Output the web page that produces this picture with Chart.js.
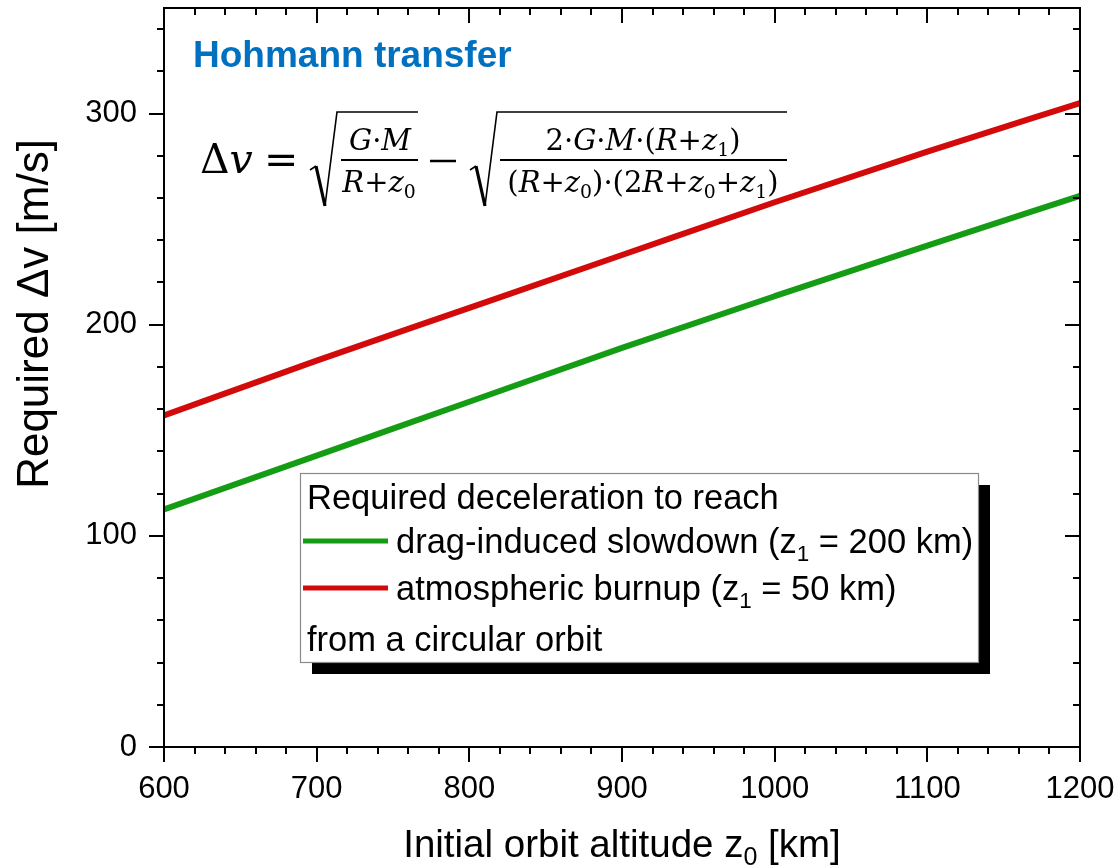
<!DOCTYPE html>
<html><head><meta charset="utf-8">
<script src="https://cdn.jsdelivr.net/npm/chart.js@4.4.0/dist/chart.umd.min.js"></script>
<style>html,body{margin:0;padding:0;background:#fff}canvas{display:block}</style>
</head><body>
<canvas id="c" width="1120" height="866"></canvas>
<script>
// ---- data ----
const altitudes = [600, 700, 800, 900, 1000, 1100, 1200];          // z0 [km]
const dragSlowdown = [112.5, 138, 163.5, 189, 213.5, 237.5, 261];   // z1 = 200 km
const burnup = [157, 183, 208, 233, 258, 282, 305];                 // z1 = 50 km
const seriesLabels = ['drag-induced slowdown', 'atmospheric burnup'];
const targetAltitudes = [200, 50];
const seriesColors = ['#159C15', '#D20A0A'];
const xTickValues = [600, 700, 800, 900, 1000, 1100, 1200];
const yTickValues = [0, 100, 200, 300];

const SANS = '"Liberation Sans", Arial, sans-serif';
const SERIF = '"DejaVu Serif", "Liberation Serif", serif';

function fontFor(kind, size, fam, bold) {
  const s = kind === 's' ? size * 0.65 : size;
  return (kind === 'i' ? 'italic ' : '') + (bold ? 'bold ' : '') + s + 'px ' + fam;
}
function drawRich(ctx, parts, x, y, size, fam, align, bold) {
  let w = 0;
  parts.forEach(p => { ctx.font = fontFor(p[1], size, fam, bold); w += ctx.measureText(p[0]).width; });
  let cx = align === 'center' ? x - w / 2 : x;
  ctx.textAlign = 'left';
  ctx.textBaseline = 'alphabetic';
  parts.forEach(p => {
    ctx.font = fontFor(p[1], size, fam, bold);
    ctx.fillText(p[0], cx, y + (p[1] === 's' ? size * 0.22 : 0));
    cx += ctx.measureText(p[0]).width;
  });
  return w;
}
function drawSqrt(ctx, x0, xEnd, yTop, yBot) {
  ctx.save();
  ctx.strokeStyle = '#000';
  ctx.lineJoin = 'miter';
  ctx.beginPath();
  ctx.lineWidth = 1.6;
  ctx.moveTo(x0, yBot - 36);
  ctx.lineTo(x0 + 6, yBot - 40);
  ctx.stroke();
  ctx.beginPath();
  ctx.lineWidth = 3.2;
  ctx.moveTo(x0 + 6, yBot - 40);
  ctx.lineTo(x0 + 15, yBot);
  ctx.stroke();
  ctx.beginPath();
  ctx.lineWidth = 1.6;
  ctx.moveTo(x0 + 15, yBot);
  ctx.lineTo(x0 + 27, yTop);
  ctx.lineTo(xEnd, yTop);
  ctx.stroke();
  ctx.restore();
}

const decor = {
  id: 'decor',
  afterDraw(chart) {
    const ctx = chart.ctx;
    const a = chart.chartArea;
    const xs = chart.scales.x, ys = chart.scales.y;
    ctx.save();
    ctx.fillStyle = '#000';
    ctx.strokeStyle = '#000';

    // frame
    ctx.lineWidth = 2;
    ctx.strokeRect(a.left, a.top, a.right - a.left, a.bottom - a.top);

    // ticks
    ctx.lineWidth = 2;
    ctx.beginPath();
    for (let v = xs.min; v <= xs.max + 1e-9; v += 20) {
      const px = Math.round(xs.getPixelForValue(v));
      const major = v % 100 === 0;
      const L = major ? 15 : 7;
      ctx.moveTo(px, a.bottom); ctx.lineTo(px, a.bottom + L);
      ctx.moveTo(px, a.top); ctx.lineTo(px, a.top + L);
    }
    for (let v = ys.min; v <= ys.max + 1e-9; v += 20) {
      const py = Math.round(ys.getPixelForValue(v));
      const major = v % 100 === 0;
      const L = major ? 15 : 7;
      ctx.moveTo(a.left, py); ctx.lineTo(a.left - L, py);
      ctx.moveTo(a.right, py); ctx.lineTo(a.right - L, py);
    }
    ctx.stroke();

    // axis titles
    drawRich(ctx, [['Initial orbit altitude z', 'r'], ['0', 's'], [' [km]', 'r']], (a.left + a.right) / 2, 857, 38.5, SANS, 'center');
    ctx.save();
    ctx.translate(48, 314);
    ctx.rotate(-Math.PI / 2);
    drawRich(ctx, [['Required \u0394v [m/s]', 'r']], 0, 0, 44, SANS, 'center');
    ctx.restore();

    // title
    ctx.fillStyle = '#0070C0';
    drawRich(ctx, [['Hohmann transfer', 'r']], 193, 67, 37, SANS, 'left', true);
    ctx.fillStyle = '#000';

    // formula
    drawRich(ctx, [['\u0394', 'r'], ['v', 'i']], 200, 173, 41, SERIF, 'left');
    drawRich(ctx, [['=', 'r']], 264, 173, 41, SERIF, 'left');
    drawSqrt(ctx, 310, 418, 112, 206);
    drawRich(ctx, [['G', 'i'], ['\u00B7', 'r'], ['M', 'i']], 380, 150, 29, SERIF, 'center');
    ctx.lineWidth = 2;
    ctx.beginPath(); ctx.moveTo(341, 160); ctx.lineTo(418, 160); ctx.stroke();
    drawRich(ctx, [['R', 'i'], ['+', 'r'], ['z', 'i'], ['0', 's']], 379, 192, 29, SERIF, 'center');
    ctx.lineWidth = 2.5;
    ctx.beginPath(); ctx.moveTo(430, 161); ctx.lineTo(456, 161); ctx.stroke();
    drawSqrt(ctx, 470, 787, 112, 206);
    drawRich(ctx, [['2\u00B7', 'r'], ['G', 'i'], ['\u00B7', 'r'], ['M', 'i'], ['\u00B7(', 'r'], ['R', 'i'], ['+', 'r'], ['z', 'i'], ['1', 's'], [')', 'r']], 643, 150, 29, SERIF, 'center');
    ctx.lineWidth = 2;
    ctx.beginPath(); ctx.moveTo(500, 160); ctx.lineTo(787, 160); ctx.stroke();
    drawRich(ctx, [['(', 'r'], ['R', 'i'], ['+', 'r'], ['z', 'i'], ['0', 's'], [')\u00B7(2', 'r'], ['R', 'i'], ['+', 'r'], ['z', 'i'], ['0', 's'], ['+', 'r'], ['z', 'i'], ['1', 's'], [')', 'r']], 643, 192, 29, SERIF, 'center');

    // legend box with shadow
    const bx = 300, by = 473, bw = 678, bh = 189, sh = 12;
    ctx.fillStyle = '#000';
    ctx.fillRect(bx + sh, by + sh, bw, bh);
    ctx.fillStyle = '#fff';
    ctx.fillRect(bx, by, bw, bh);
    ctx.strokeStyle = '#8a8a8a';
    ctx.lineWidth = 1.2;
    ctx.strokeRect(bx + 0.5, by + 0.5, bw, bh);
    ctx.fillStyle = '#000';
    const LS = 34.5;
    drawRich(ctx, [['Required deceleration to reach', 'r']], 307, 509, LS, SANS, 'left');
    chart.data.datasets.forEach((ds, i) => {
      const yc = 541 + i * 47;
      ctx.strokeStyle = ds.borderColor;
      ctx.lineWidth = 5;
      ctx.beginPath(); ctx.moveTo(303, yc); ctx.lineTo(388, yc); ctx.stroke();
      ctx.fillStyle = '#000';
      drawRich(ctx, [[seriesLabels[i] + ' (z', 'r'], ['1', 's'], [' = ' + targetAltitudes[i] + ' km)', 'r']], 396, yc + 12, LS, SANS, 'left');
    });
    drawRich(ctx, [['from a circular orbit', 'r']], 307, 651, LS, SANS, 'left');
    ctx.restore();
  }
};

const toXY = (vals) => altitudes.map((x, i) => ({ x: x, y: vals[i] }));
const zeroPad = (s) => { s.paddingTop = 0; s.paddingBottom = 0; s.paddingLeft = 0; s.paddingRight = 0; };

new Chart(document.getElementById('c'), {
  type: 'line',
  data: {
    datasets: [
      { label: seriesLabels[0], data: toXY(dragSlowdown), borderColor: seriesColors[0], borderWidth: 6, pointRadius: 0, cubicInterpolationMode: 'monotone', fill: false },
      { label: seriesLabels[1], data: toXY(burnup), borderColor: seriesColors[1], borderWidth: 6, pointRadius: 0, cubicInterpolationMode: 'monotone', fill: false }
    ]
  },
  options: {
    responsive: false,
    animation: false,
    devicePixelRatio: 1,
    layout: { padding: { left: 0, top: 8, right: 40, bottom: 0 } },
    plugins: { legend: { display: false }, tooltip: { enabled: false } },
    scales: {
      x: {
        type: 'linear', min: 600, max: 1200,
        afterFit: (s) => { s.height = 119; zeroPad(s); },
        grid: { display: false, drawTicks: false },
        border: { display: false },
        afterBuildTicks: (s) => { s.ticks = xTickValues.map(v => ({ value: v })); },
        ticks: { color: '#000', font: { family: SANS, size: 31 }, padding: 24, maxRotation: 0, autoSkip: false, callback: (v) => String(v) }
      },
      y: {
        type: 'linear', min: 0, max: 350,
        afterFit: (s) => { s.width = 164; zeroPad(s); },
        grid: { display: false, drawTicks: false },
        border: { display: false },
        afterBuildTicks: (s) => { s.ticks = yTickValues.map(v => ({ value: v })); },
        ticks: { color: '#000', font: { family: SANS, size: 31 }, padding: 27, callback: (v) => String(v) }
      }
    }
  },
  plugins: [decor]
});
</script>
</body></html>
